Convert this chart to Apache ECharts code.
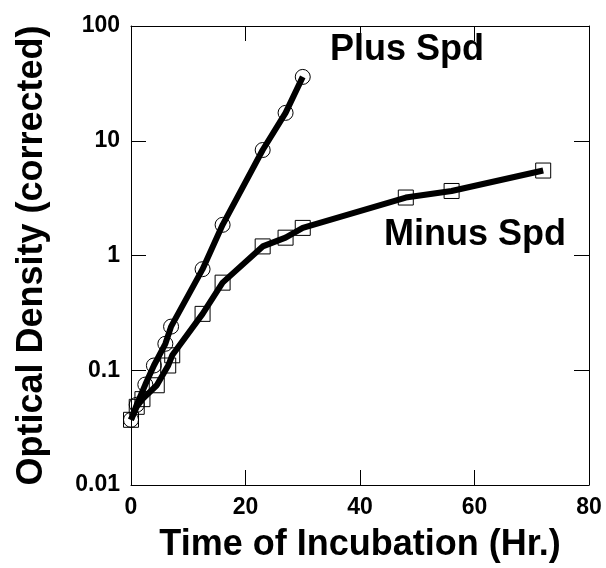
<!DOCTYPE html>
<html>
<head>
<meta charset="utf-8">
<script src="https://cdn.jsdelivr.net/npm/echarts@6/dist/echarts.min.js"></script>
<style>html,body{margin:0;padding:0;background:#fff}#c{width:606px;height:568px}</style>
</head>
<body>
<div id="c"></div>
<script>
const plusX = [0, 1, 2.5, 4, 6, 7, 12.5, 16, 23, 27, 30];
const plusY = [0.037, 0.05, 0.075, 0.11, 0.17, 0.24, 0.76, 1.85, 8.3, 17.5, 36];
const minusX = [0, 1, 2, 4.5, 6.5, 7.2, 12.5, 16, 23, 27, 30, 48, 56, 72];
const minusY = [0.037, 0.048, 0.056, 0.074, 0.11, 0.135, 0.31, 0.58, 1.2, 1.43, 1.74, 3.2, 3.65, 5.5];
const xTicks = [0, 20, 40, 60, 80];
const yTicks = [0.01, 0.1, 1, 10, 100];
const xTitle = 'Time of Incubation (Hr.)';
const yTitle = 'Optical Density (corrected)';
const plusLabel = 'Plus Spd';
const minusLabel = 'Minus Spd';

const FONT = '"Liberation Sans", Arial, Helvetica, sans-serif';
const chart = echarts.init(document.getElementById('c'), null, {renderer: 'canvas'});
const zip = (xs, ys) => xs.map((x, i) => [x, ys[i]]);
const axisLine = {show: true, onZero: false, lineStyle: {color: '#000', width: 1}};
const tick = {show: true, inside: true, length: 15, lineStyle: {color: '#000', width: 1}};
const labelStyle = {fontFamily: FONT, fontWeight: 'bold', fontSize: 23, color: '#000'};
const nameStyle = {fontFamily: FONT, fontWeight: 'bold', fontSize: 36, color: '#000'};
chart.setOption({
  animation: false,
  backgroundColor: '#fff',
  grid: {left: 131, right: 17, top: 26, bottom: 78, show: false},
  xAxis: [{
    type: 'value', min: xTicks[0], max: xTicks[xTicks.length - 1], interval: 20,
    position: 'bottom',
    name: xTitle, nameLocation: 'middle', nameGap: 42, nameTextStyle: nameStyle,
    axisLine: axisLine, axisTick: tick,
    axisLabel: {...labelStyle, margin: 11},
    splitLine: {show: false}
  }, {
    type: 'value', min: xTicks[0], max: xTicks[xTicks.length - 1], interval: 20,
    position: 'top',
    axisLine: axisLine, axisTick: tick, axisLabel: {show: false},
    splitLine: {show: false}
  }],
  yAxis: [{
    type: 'log', logBase: 10, min: yTicks[0], max: yTicks[yTicks.length - 1],
    position: 'left',
    name: yTitle, nameLocation: 'middle', nameGap: 81, nameRotate: 90, nameTextStyle: nameStyle,
    axisLine: axisLine, axisTick: tick,
    axisLabel: {...labelStyle, margin: 11, formatter: v => String(+(+v).toPrecision(3))},
    splitLine: {show: false}
  }, {
    type: 'log', logBase: 10, min: yTicks[0], max: yTicks[yTicks.length - 1],
    position: 'right',
    axisLine: axisLine, axisTick: tick, axisLabel: {show: false},
    splitLine: {show: false}
  }],
  series: [{
    name: plusLabel, type: 'line', xAxisIndex: 0, yAxisIndex: 0,
    data: zip(plusX, plusY),
    lineStyle: {color: '#000', width: 6},
    symbol: 'circle', symbolSize: 15, showAllSymbol: true,
    itemStyle: {color: 'rgba(255,255,255,0)', borderColor: '#000', borderWidth: 1},
    z: 3
  }, {
    name: minusLabel, type: 'line', xAxisIndex: 0, yAxisIndex: 0,
    data: zip(minusX, minusY),
    lineStyle: {color: '#000', width: 6},
    symbol: 'rect', symbolSize: 15, showAllSymbol: true,
    itemStyle: {color: 'rgba(255,255,255,0)', borderColor: '#000', borderWidth: 1},
    z: 3
  }],
  graphic: [{
    type: 'text', left: 330, top: 32,
    style: {text: plusLabel, fontFamily: FONT, fontWeight: 'bold', fontSize: 36, fill: '#000'}
  }, {
    type: 'text', left: 384, top: 217,
    style: {text: minusLabel, fontFamily: FONT, fontWeight: 'bold', fontSize: 36, fill: '#000'}
  }]
});
</script>
</body>
</html>
